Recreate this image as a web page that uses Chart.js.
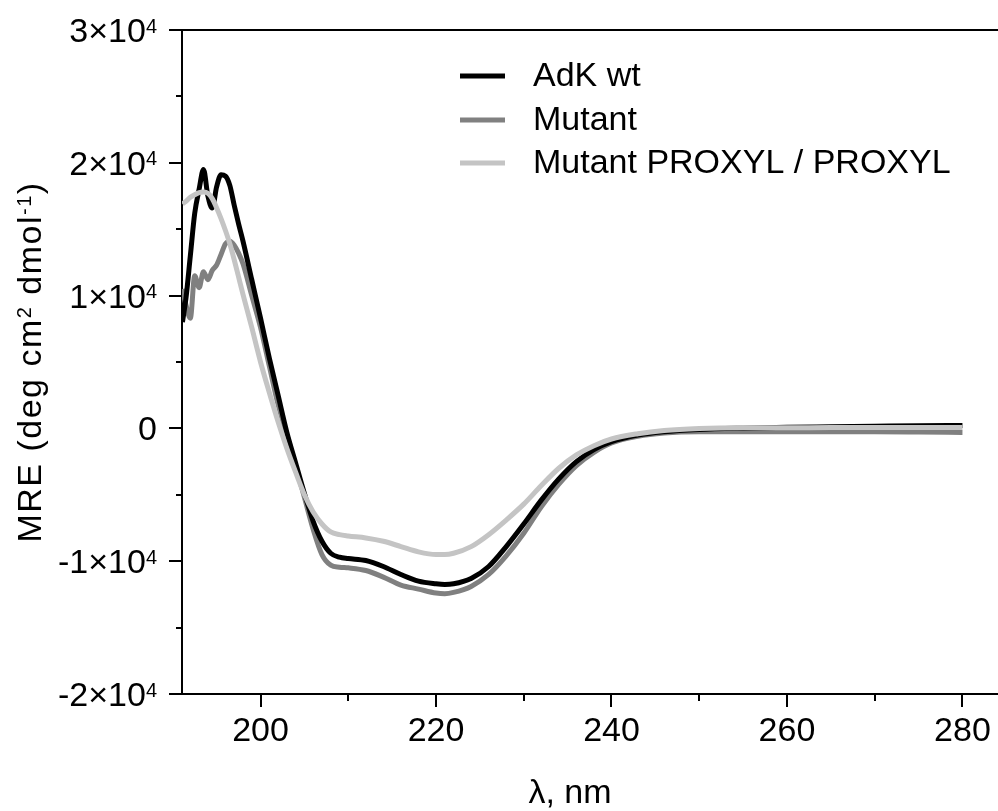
<!DOCTYPE html>
<html>
<head>
<meta charset="utf-8">
<script src="https://cdn.jsdelivr.net/npm/chart.js@4.4.1/dist/chart.umd.min.js"></script>
<style>
  body { margin: 0; background: #fff; }
  #wrap { width: 998px; height: 811px; }
</style>
</head>
<body>
<div id="wrap"><canvas id="cd" width="998" height="811"></canvas></div>
<script>
// wavelength grid (nm)
const wavelength = [191.1, 191.5, 192, 192.5, 193, 193.5, 194, 194.5, 195, 195.5, 196, 196.5, 197, 197.5, 198,
  199, 200, 201, 202, 203, 204, 205, 206, 207, 208, 209, 210, 212, 214, 216, 218, 220, 221, 222, 224, 226, 228,
  230, 232, 234, 236, 238, 240, 243, 246, 250, 255, 260, 265, 270, 275, 280];

const adkWt = [8000, 9800, 13000, 16200, 18000, 19500, 17500, 16600, 18200, 19100, 19000, 18300, 16800, 15400, 14100,
  11200, 8300, 5300, 2500, -300, -2600, -4900, -7000, -8500, -9400, -9700, -9800, -9950, -10400, -11000, -11500,
  -11700, -11750, -11700, -11300, -10400, -8900, -7200, -5400, -3800, -2500, -1600, -1000, -500, -250, -80, 20,
  80, 120, 160, 200, 220];

const mutant = [10500, 9300, 8300, 11500, 10600, 11800, 11200, 11900, 12300, 13100, 13900, 14100, 13800, 13200, 12400,
  10000, 7600, 4700, 1800, -500, -2800, -5200, -7600, -9500, -10300, -10450, -10500, -10700, -11200, -11800, -12100,
  -12400, -12450, -12350, -11900, -11000, -9600, -7900, -5900, -4200, -2800, -1800, -1100, -600, -350, -250, -250,
  -250, -250, -250, -270, -300];

const mutantProxyl = [16900, 17100, 17400, 17600, 17750, 17800, 17700, 17300, 16600, 15800, 14900, 13900, 12700, 11400, 10100,
  7600, 5000, 2700, 500, -1500, -3300, -5000, -6300, -7200, -7800, -8000, -8100, -8250, -8500, -8900, -9300,
  -9500, -9500, -9400, -8900, -8000, -6900, -5700, -4300, -3000, -2000, -1300, -800, -400, -150, 0, 50,
  50, 60, 60, 60, 60];

const seriesNames = ['AdK wt', 'Mutant', 'Mutant PROXYL / PROXYL'];
const seriesColors = ['#000000', '#808080', '#c4c4c4'];

const xTicks = [200, 220, 240, 260, 280];
const xMinorTicks = [210, 230, 250, 270];
const yTicks = [-20000, -10000, 0, 10000, 20000, 30000];
const yMinorTicks = [-15000, -5000, 5000, 15000, 25000];
// tick labels: [mantissa, exponent]
const yTickLabels = [['-2\u00d710', '4'], ['-1\u00d710', '4'], ['0', ''], ['1\u00d710', '4'], ['2\u00d710', '4'], ['3\u00d710', '4']];

const FONT = '"Liberation Sans", Arial, sans-serif';
const BIG = '34px ' + FONT;
const SUP = '20px ' + FONT;

function pts(vals) {
  return vals.map((v, i) => ({ x: wavelength[i], y: v }));
}

// draws minor ticks, frame top, y labels, titles and legend
const decorations = {
  id: 'decorations',
  afterDraw(chart) {
    const ctx = chart.ctx;
    const xs = chart.scales.x, ys = chart.scales.y;
    const area = chart.chartArea;
    ctx.save();
    ctx.strokeStyle = '#000';
    ctx.lineWidth = 2;

    // top frame
    ctx.beginPath();
    ctx.moveTo(area.left - 1, area.top);
    ctx.lineTo(area.right, area.top);
    ctx.stroke();

    // minor ticks
    ctx.beginPath();
    xMinorTicks.forEach(v => {
      const px = Math.round(xs.getPixelForValue(v));
      ctx.moveTo(px, area.bottom);
      ctx.lineTo(px, area.bottom + 7);
    });
    yMinorTicks.forEach(v => {
      const py = Math.round(ys.getPixelForValue(v));
      ctx.moveTo(area.left, py);
      ctx.lineTo(area.left - 6, py);
    });
    ctx.stroke();

    // y tick labels with superscript
    ctx.fillStyle = '#000';
    ctx.textBaseline = 'alphabetic';
    ctx.textAlign = 'left';
    yTicks.forEach((v, i) => {
      const py = ys.getPixelForValue(v);
      const [mant, exp] = yTickLabels[i];
      ctx.font = BIG;
      const wm = ctx.measureText(mant).width;
      ctx.font = SUP;
      const we = exp ? ctx.measureText(exp).width : 0;
      const right = 157;
      ctx.font = BIG;
      ctx.fillText(mant, right - we - wm, py + 12);
      if (exp) {
        ctx.font = SUP;
        ctx.fillText(exp, right - we, py + 2.5);
      }
    });

    // y axis title
    const parts = [['MRE (deg cm', 0], ['2', 1], [' dmol', 0], ['-1', 1], [')', 0]];
    ctx.save();
    ctx.letterSpacing = '1.5px';
    let total = 0;
    parts.forEach(p => {
      ctx.font = p[1] ? SUP : BIG;
      total += ctx.measureText(p[0]).width;
    });
    ctx.translate(41, 362);
    ctx.rotate(-Math.PI / 2);
    let cx = -total / 2;
    parts.forEach(p => {
      ctx.font = p[1] ? SUP : BIG;
      ctx.fillText(p[0], cx, p[1] ? -10 : 0);
      cx += ctx.measureText(p[0]).width;
    });
    ctx.restore();

    // x axis title
    ctx.font = BIG;
    ctx.textAlign = 'center';
    ctx.fillText('\u03bb, nm', 570, 803);

    // legend
    const ly = [76, 120, 163];
    ctx.textAlign = 'left';
    ctx.textBaseline = 'middle';
    seriesNames.forEach((name, i) => {
      ctx.strokeStyle = seriesColors[i];
      ctx.lineWidth = 5;
      ctx.beginPath();
      ctx.moveTo(460, ly[i]);
      ctx.lineTo(505, ly[i]);
      ctx.stroke();
      ctx.fillStyle = '#000';
      ctx.font = BIG;
      ctx.fillText(name, 533, ly[i] + 1);
    });
    ctx.restore();
  }
};

// dataset order: first drawn on top, so PROXYL first
new Chart(document.getElementById('cd'), {
  type: 'line',
  data: {
    datasets: [
      { label: seriesNames[2], data: pts(mutantProxyl), borderColor: seriesColors[2] },
      { label: seriesNames[0], data: pts(adkWt), borderColor: seriesColors[0] },
      { label: seriesNames[1], data: pts(mutant), borderColor: seriesColors[1] }
    ].map(d => Object.assign(d, {
      borderWidth: 5,
      pointRadius: 0,
      fill: false,
      cubicInterpolationMode: 'monotone',
      borderJoinStyle: 'round'
    }))
  },
  options: {
    responsive: false,
    animation: false,
    layout: { padding: { top: 30, right: 0, left: 0, bottom: 0 } },
    plugins: { legend: { display: false }, tooltip: { enabled: false } },
    scales: {
      x: {
        type: 'linear',
        min: 191.05,
        max: 284.05,
        afterBuildTicks: s => { s.ticks = xTicks.map(v => ({ value: v })); },
        afterFit: s => { s.height = 117; },
        border: { display: true, color: '#000', width: 2 },
        grid: { drawOnChartArea: false, color: '#000', lineWidth: 2, tickLength: 13 },
        ticks: { color: '#000', font: { family: FONT, size: 34 }, padding: 4, maxRotation: 0 }
      },
      y: {
        type: 'linear',
        min: -20000,
        max: 30000,
        afterBuildTicks: s => { s.ticks = yTicks.map(v => ({ value: v })); },
        afterFit: s => { s.width = 182; },
        border: { display: true, color: '#000', width: 2 },
        grid: { drawOnChartArea: false, color: '#000', lineWidth: 2, tickLength: 13 },
        ticks: { display: false }
      }
    }
  },
  plugins: [decorations]
});
</script>
</body>
</html>
